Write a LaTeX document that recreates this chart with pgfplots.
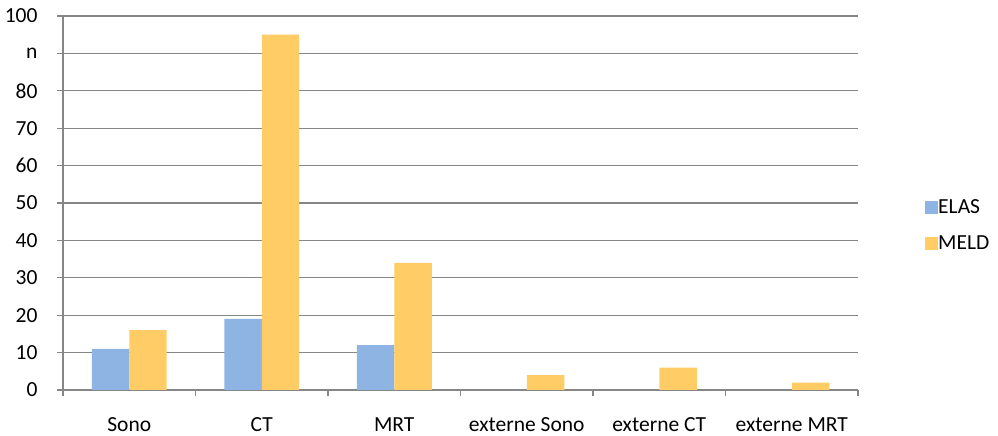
\documentclass[border=0pt]{standalone}
\usepackage{fontspec}
\setmainfont{Carlito}
\usepackage{pgfplots}
\pgfplotsset{compat=1.18}
\definecolor{elas}{HTML}{8EB4E3}
\definecolor{meld}{HTML}{FFCC66}
\definecolor{gridc}{HTML}{868686}
\begin{document}
\begin{tikzpicture}
\begin{axis}[name=ax, scale only axis,
  width=795pt, height=374pt,
  xmin=0, xmax=6, ymin=0, ymax=100,
  ytick={0,10,...,100}, yticklabels={0,10,20,30,40,50,60,70,80,n,100},
  xtick={0,...,6}, x tick label as interval,
  xticklabels={Sono,CT,MRT,externe Sono,externe CT,externe MRT},
  axis x line=bottom, axis y line=left,
  axis line style={gridc, line width=1.2pt, -},
  ymajorgrids, grid style={gridc, line width=1.2pt},
  tick align=outside, major tick length=6pt,
  tick style={gridc, line width=1.2pt},
  ybar=0pt, bar width=0.283,
  font=\fontsize{21.5}{25}\selectfont,
  ticklabel style={font=\fontsize{21.5}{25}\selectfont},
  xticklabel style={yshift=-18pt},
  yticklabel style={xshift=-16pt},
  legend style={at={(1.0843,0.44)}, anchor=west, draw=none, fill=none,
    inner sep=0pt, row sep=21pt, font=\fontsize{21.5}{25}\selectfont,
    nodes={inner sep=0pt, xshift=5pt}},
  legend cell align=left,
]
\addplot[draw=none, fill=elas, legend image code/.code={\fill[elas] (0pt,-6.5pt) rectangle (13pt,6.5pt);}]
  coordinates {(0.5,11) (1.5,19) (2.5,12) (3.5,0) (4.5,0) (5.5,0)};
\addplot[draw=none, fill=meld, legend image code/.code={\fill[meld] (0pt,-6.5pt) rectangle (13pt,6.5pt);}]
  coordinates {(0.5,16) (1.5,95) (2.5,34) (3.5,4) (4.5,6) (5.5,2)};
\legend{ELAS,MELD}
\end{axis}
\path[use as bounding box] ([shift={(-63pt,-46pt)}]ax.south west) rectangle ++(998pt,436pt);
\end{tikzpicture}
\end{document}
